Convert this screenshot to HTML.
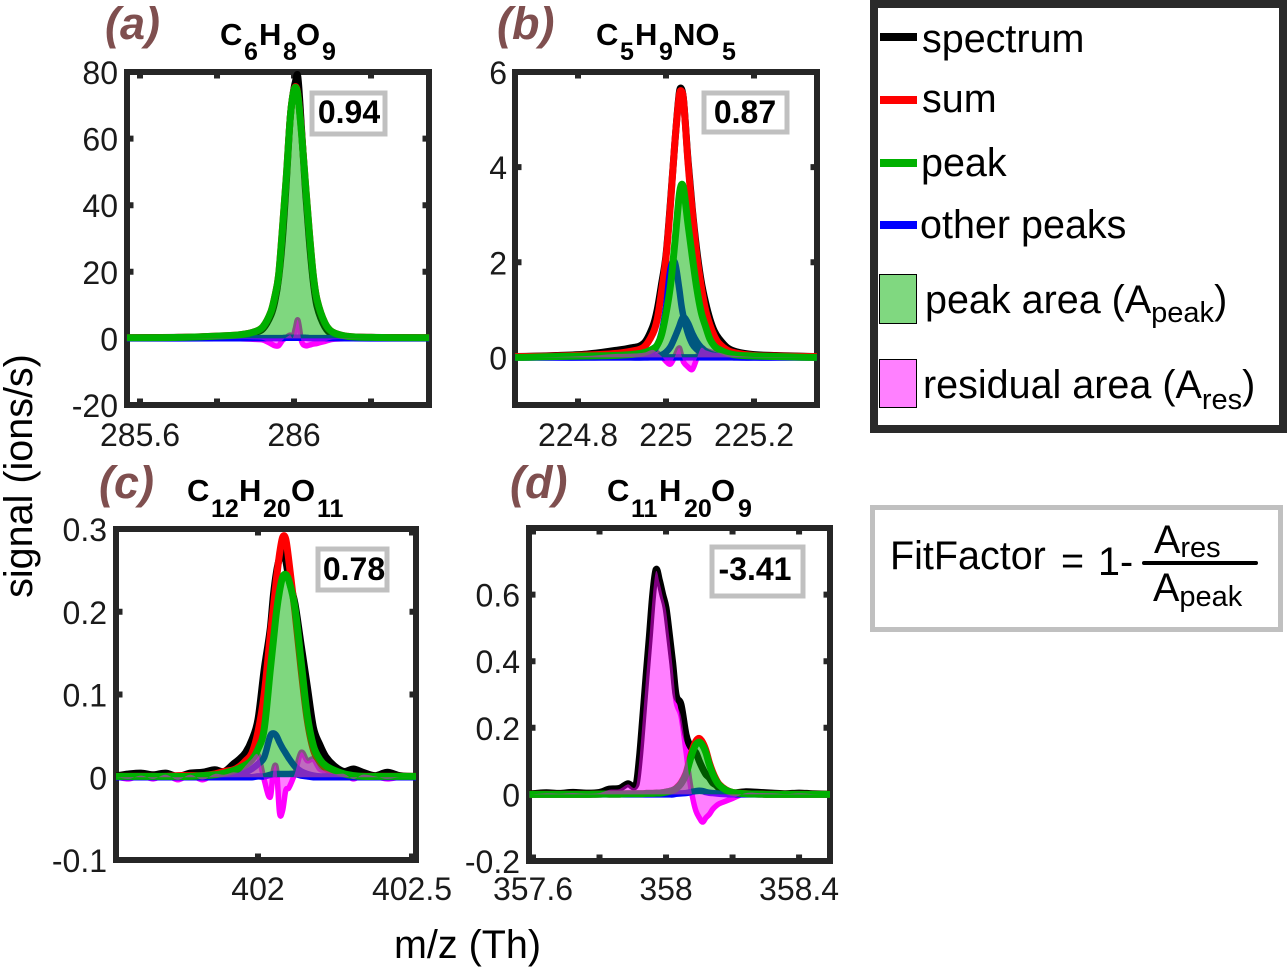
<!DOCTYPE html>
<html lang="en">
<head>
<meta charset="utf-8">
<title>Peak fit factor examples</title>
<style>
html,body{margin:0;padding:0;background:#fff;}
svg{display:block;font-family:"Liberation Sans",sans-serif;}
.panel-letter{font-weight:bold;font-style:italic;font-size:45px;fill:#7f4f4f;}
.title{font-weight:bold;font-size:31px;fill:#000;}
.title .s{font-size:25px;}
.fit{font-weight:bold;font-size:32px;fill:#000;text-anchor:middle;}
.leg{font-size:39.5px;fill:#000;}
.sub{font-size:29px;}
.axis-title{font-size:39.5px;fill:#000;}
</style>
</head>
<body>
<svg id="figure" xmlns="http://www.w3.org/2000/svg" width="1287" height="967" viewBox="0 0 1287 967">
  <rect x="0" y="0" width="1287" height="967" fill="#fff"/>
  <g id="panels"></g>

  <text class="panel-letter" x="105" y="39">(a)</text>
  <text class="panel-letter" x="497" y="39">(b)</text>
  <text class="panel-letter" x="99" y="498">(c)</text>
  <text class="panel-letter" x="510" y="498">(d)</text>

  <text class="title"><tspan x="220" y="45">C</tspan><tspan class="s" x="244" y="60">6</tspan><tspan x="259" y="45">H</tspan><tspan class="s" x="283" y="60">8</tspan><tspan x="296" y="45">O</tspan><tspan class="s" x="322" y="60">9</tspan></text>
  <text class="title"><tspan x="596" y="45">C</tspan><tspan class="s" x="620" y="60">5</tspan><tspan x="635" y="45">H</tspan><tspan class="s" x="659" y="60">9</tspan><tspan x="673" y="45">NO</tspan><tspan class="s" x="722" y="60">5</tspan></text>
  <text class="title"><tspan x="187" y="501">C</tspan><tspan class="s" x="211" y="517">12</tspan><tspan x="239" y="501">H</tspan><tspan class="s" x="263" y="517">20</tspan><tspan x="291" y="501">O</tspan><tspan class="s" x="317" y="517">11</tspan></text>
  <text class="title"><tspan x="607" y="501">C</tspan><tspan class="s" x="631" y="517">11</tspan><tspan x="659" y="501">H</tspan><tspan class="s" x="684" y="517">20</tspan><tspan x="711" y="501">O</tspan><tspan class="s" x="738" y="517">9</tspan></text>

  <g><rect x="312" y="93" width="73" height="41" fill="#fff" stroke="#c0c0c0" stroke-width="5"/><text class="fit" x="349" y="123">0.94</text></g>
  <g><rect x="704" y="93" width="83" height="39" fill="#fff" stroke="#c0c0c0" stroke-width="5"/><text class="fit" x="745" y="123">0.87</text></g>
  <g><rect x="318" y="549" width="69" height="41" fill="#fff" stroke="#c0c0c0" stroke-width="5"/><text class="fit" x="354" y="580">0.78</text></g>
  <g><rect x="712" y="547" width="91" height="49" fill="#fff" stroke="#c0c0c0" stroke-width="5"/><text class="fit" x="755" y="580">-3.41</text></g>

  <text class="axis-title" text-anchor="middle" transform="translate(32 476) rotate(-90)">signal (ions/s)</text>
  <text class="axis-title" x="394" y="958">m/z (Th)</text>

  <g>
    <rect x="874" y="4" width="409" height="425" fill="#fff" stroke="#2a2a2a" stroke-width="8"/>
    <rect x="880" y="33" width="37" height="8" fill="#000"/>
    <text class="leg" x="922" y="52">spectrum</text>
    <rect x="880" y="96" width="37" height="8" fill="#f00"/>
    <text class="leg" x="922" y="112">sum</text>
    <rect x="880" y="159" width="37" height="8" fill="#00b000"/>
    <text class="leg" x="921" y="176">peak</text>
    <rect x="880" y="221" width="37" height="8" fill="#00f"/>
    <text class="leg" x="920" y="238">other peaks</text>
    <rect x="879.5" y="274.5" width="37" height="49" fill="#80d880" stroke="#000" stroke-width="1"/>
    <text class="leg" x="925" y="313">peak area (A<tspan class="sub" dy="9">peak</tspan><tspan dy="-9">)</tspan></text>
    <rect x="879.5" y="359.5" width="37" height="48" fill="#ff80ff" stroke="#000" stroke-width="1"/>
    <text class="leg" x="923" y="398">residual area (A<tspan class="sub" dy="11">res</tspan><tspan dy="-11">)</tspan></text>
  </g>

  <g>
    <rect x="872.5" y="507.5" width="408" height="122" fill="#fff" stroke="#c0c0c0" stroke-width="5"/>
    <text class="leg" x="890" y="569">FitFactor</text>
    <text class="leg" x="1061" y="574">=</text>
    <text class="leg" x="1098" y="575">1-</text>
    <text class="leg" x="1154" y="553">A<tspan class="sub" dy="4">res</tspan></text>
    <line x1="1144" y1="563" x2="1256" y2="563" stroke="#000" stroke-width="4" stroke-linecap="round"/>
    <text class="leg" x="1153" y="601">A<tspan class="sub" dy="5">peak</tspan></text>
  </g>
</svg>
<script>
// Panel (a) C6H8O9
const aMz = [285.566,285.7,285.8,285.86,285.9,285.92,285.94,285.95,285.96,285.97,285.98,285.99,285.997,286.0035,286.01,286.02,286.03,286.04,286.05,286.06,286.08,286.1,286.14,286.2,286.351];
const aSpectrum = [.2,.3,.6,1,1.8,3,7,11,18,30,47,66,73,77,78.5,62,44,29,17,9.5,3.5,1.2,.5,.3,.2];
const aSum = [.2,.3,.7,1.1,2.1,3.6,8,12.5,19,33,48.5,66,73,75.6,73.2,61.2,46,31.5,19,11.5,4.7,1.9,.6,.3,.2];
const aPeak = [.2,.3,.7,1.1,2.1,3.6,8,12.5,19,33,48.5,66,73,75.4,73,61,46,31.5,19,11.5,4.7,1.9,.6,.3,.2];
const aOther = [0,0,.05,.05,.1,.1,.1,.1,.1,.1,.2,.2,.2,.2,.2,.2,.2,.1,.1,.1,.1,.1,.05,0,0];
const aResidual = [0,0,-.1,-.1,-.3,-.5,-1.6,-2.2,-2.2,-.6,.3,1,.2,3,5.5,-1,-2.2,-2,-1.7,-1.5,-.9,-.3,-.1,0,0];
const aXTicks = [285.6,285.8,286,286.2];
const aXLabels = ["285.6","","286",""];
const aYTicks = [-20,0,20,40,60,80];
const aYLabels = ["-20","0","20","40","60","80"];

// Panel (b) C5H9NO5
const bMz = [224.657,224.75,224.82,224.88,224.92,224.95,224.97,224.98,224.99,225,225.01,225.02,225.03,225.035,225.04,225.05,225.06,225.07,225.08,225.09,225.1,225.11,225.12,225.14,225.16,225.2,225.25,225.343];
const bSpectrum = [.02,.04,.07,.14,.2,.3,.65,1.0,1.55,2.15,3.25,4.5,5.55,5.65,5.4,4.15,3.1,2.25,1.6,1.15,.8,.55,.4,.2,.12,.06,.04,.02];
const bSum = [.02,.03,.05,.08,.13,.22,.5,.8,1.4,2.1,3.2,4.5,5.5,5.6,5.4,4.1,3.05,2.15,1.5,1,.68,.45,.3,.15,.09,.04,.03,.02];
const bPeak = [0,.02,.03,.04,.06,.1,.18,.26,.48,.92,1.5,2.4,3.4,3.63,3.55,2.8,2.1,1.45,.95,.65,.38,.24,.17,.09,.05,.03,.02,0];
const bOther1 = [0,0,0,.01,.03,.06,.13,.25,.52,1.05,1.85,2,1.45,1.1,.85,.5,.28,.17,.1,.06,.04,.03,.02,.01,0,0,0,0];
const bOther2 = [0,0,0,0,0,0,.01,.02,.05,.11,.22,.42,.65,.78,.85,.72,.5,.33,.21,.13,.08,.05,.03,.02,.01,0,0,0];
const bOther3 = [0,0,0,0,0,0,0,0,0,0,0,0,0,0,0,0,0,0,0,0,0,0,0,0,0,0,0,0];
const bResidual = [0,.01,.03,.07,.08,.1,.16,.1,.02,-.08,-.14,.02,.2,.05,-.1,-.2,-.25,-.02,.2,.15,.12,.1,.1,.05,.03,.01,.01,0];
const bXTicks = [224.8,225,225.2];
const bXLabels = ["224.8","225","225.2"];
const bYTicks = [0,2,4,6];
const bYLabels = ["0","2","4","6"];

// Panel (c) C12H20O11
const cMz = [401.539,401.58,401.62,401.66,401.7,401.74,401.78,401.82,401.86,401.89,401.92,401.94,401.96,401.98,402,402.02,402.04,402.05,402.06,402.07,402.08,402.09,402.1,402.12,402.14,402.16,402.18,402.2,402.22,402.25,402.28,402.31,402.34,402.38,402.42,402.46,402.513];
const cSpectrum = [.002,.004,.005,.003,.005,.001,.005,.006,.009,.007,.016,.022,.03,.045,.07,.13,.18,.22,.248,.265,.272,.262,.24,.21,.16,.11,.06,.04,.025,.013,.007,.01,.006,.002,.006,.002,.001];
const cSum = [.001,.001,.001,.001,.001,.002,.002,.002,.004,.007,.009,.013,.02,.029,.055,.1,.172,.205,.24,.27,.29,.288,.262,.2,.13,.069,.033,.019,.011,.005,.002,.001,.001,.001,.001,.001,.001];
const cPeak = [.001,.001,.001,.001,.001,.001,.001,.002,.003,.005,.008,.011,.015,.021,.034,.058,.13,.165,.2,.225,.242,.245,.238,.205,.14,.075,.038,.022,.014,.008,.004,.002,.001,.001,.001,.001,.001];
const cOther1 = [0,0,0,0,0,0,0,0,.001,.002,.003,.004,.006,.01,.016,.024,.05,.053,.05,.042,.035,.029,.023,.013,.007,.004,.002,.001,.001,0,0,0,0,0,0,0,0];
const cOther2 = [0,0,0,0,0,0,0,0,0,0,0,0,0,0,.001,.001,.003,.004,.004,.004,.004,.004,.004,.004,.002,.001,0,0,0,0,0,0,0,0,0,0,0];
const cResidual = [0,-.002,.002,-.002,.003,-.003,.003,-.003,.004,.003,.006,.006,.014,.022,.027,-.003,-.024,.008,.01,-.043,-.04,-.016,-.013,.005,.03,.02,.022,.01,.008,.004,.004,-.002,.003,.001,-.002,0,0];
const cXTicks = [402,402.5];
const cXLabels = ["402","402.5"];
const cYTicks = [-.1,0,.1,.2,.3];
const cYLabels = ["-0.1","0","0.1","0.2","0.3"];

// Panel (d) C11H20O9
const dMz = [357.589,357.64,357.68,357.72,357.76,357.8,357.83,357.86,357.885,357.91,357.92,357.93,357.94,357.95,357.96,357.97,357.98,357.99,358,358.01,358.02,358.03,358.045,358.06,358.07,358.08,358.09,358.1,358.11,358.12,358.13,358.14,358.15,358.16,358.18,358.2,358.24,358.28,358.32,358.36,358.4,358.44,358.493];
const dSpectrum = [.002,.005,.003,.006,.004,.006,.016,.018,.032,.03,.11,.23,.355,.475,.6,.675,.643,.6,.56,.48,.395,.3,.27,.18,.15,.135,.125,.1,.078,.06,.05,.035,.028,.018,.008,.004,.008,.006,.004,.002,.004,.002,.001];
const dSum = [0,0,0,0,0,.001,.001,.001,.002,.002,.002,.002,.003,.003,.003,.004,.004,.005,.007,.009,.012,.018,.034,.063,.1,.135,.16,.168,.156,.132,.096,.068,.046,.03,.014,.006,.002,.001,0,0,0,0,0];
const dPeak = [0,0,0,0,0,.001,.001,.001,.002,.002,.002,.002,.003,.003,.003,.004,.004,.005,.007,.009,.012,.017,.032,.06,.095,.128,.15,.157,.147,.125,.09,.063,.042,.028,.013,.006,.002,.001,0,0,0,0,0];
const dOther = [0,0,0,0,0,0,0,0,0,0,0,0,0,0,0,0,0,0,0,0,0,.002,.003,.004,.006,.008,.01,.011,.01,.007,.005,.004,.003,.002,.001,0,0,0,0,0,0,0,0];
const dResidual = [0,.003,.002,.004,.002,.004,.014,.016,.03,.026,.105,.225,.35,.47,.595,.67,.638,.595,.552,.47,.38,.28,.235,.13,.05,-.01,-.05,-.07,-.083,-.07,-.06,-.045,-.035,-.028,-.02,-.012,.004,.004,.003,.001,.003,.001,0];
const dXTicks = [357.6,357.8,358,358.2,358.4];
const dXLabels = ["357.6","","358","","358.4"];
const dYTicks = [-.2,0,.2,.4,.6];
const dYLabels = ["-0.2","0","0.2","0.4","0.6"];

const panels = [
  {id:'a',box:[127,429,405,72],xDom:[285.5662,286.3506],yDom:[-20,80],mz:aMz,spectrum:aSpectrum,sum:aSum,peak:aPeak,others:[aOther],residual:aResidual,xTicks:aXTicks,xLabels:aXLabels,yTicks:aYTicks,yLabels:aYLabels,xLabelY:446,yLabelX:118},
  {id:'b',box:[515,817,405,72],xDom:[224.6568,225.3432],yDom:[-1,6],mz:bMz,spectrum:bSpectrum,sum:bSum,peak:bPeak,others:[bOther3,bOther1,bOther2],residual:bResidual,xTicks:bXTicks,xLabels:bXLabels,yTicks:bYTicks,yLabels:bYLabels,xLabelY:446,yLabelX:507},
  {id:'c',box:[116,416,860,529],xDom:[401.539,402.513],yDom:[-.1,.3],mz:cMz,spectrum:cSpectrum,sum:cSum,peak:cPeak,others:[cOther2,cOther1],residual:cResidual,xTicks:cXTicks,xLabels:cXLabels,yTicks:cYTicks,yLabels:cYLabels,xLabelY:900,yLabelX:107},
  {id:'d',box:[529,830,861,528],xDom:[357.588,358.493],yDom:[-.2,.8],mz:dMz,spectrum:dSpectrum,sum:dSum,peak:dPeak,others:[dOther],residual:dResidual,xTicks:dXTicks,xLabels:dXLabels,yTicks:dYTicks,yLabels:dYLabels,xLabelY:900,yLabelX:520}
];

const NS = 'http://www.w3.org/2000/svg';
const FRAME = '#262626';
const TEXT = '#1a1a1a';
const root = document.getElementById('panels');

function make(parent, tag, attrs) {
  const el = document.createElementNS(NS, tag);
  for (const k in attrs) el.setAttribute(k, attrs[k]);
  parent.appendChild(el);
  return el;
}

// Smooth curve through the points (cubic Hermite with finite-difference slopes).
function linePath(p, X, Y, values) {
  const xs = values.map(function (v, i) { return X(p.mz[i]); });
  const ys = values.map(function (v) { return Y(v); });
  const n = xs.length;
  const slope = function (i) {
    if (i === 0 || i === n - 1) return 0;
    return (ys[i + 1] - ys[i - 1]) / (xs[i + 1] - xs[i - 1]);
  };
  let d = 'M' + xs[0].toFixed(2) + ' ' + ys[0].toFixed(2);
  for (let i = 0; i < n - 1; i++) {
    const h = (xs[i + 1] - xs[i]) / 3;
    d += 'C' + (xs[i] + h).toFixed(2) + ' ' + (ys[i] + slope(i) * h).toFixed(2) + ' ' +
         (xs[i + 1] - h).toFixed(2) + ' ' + (ys[i + 1] - slope(i + 1) * h).toFixed(2) + ' ' +
         xs[i + 1].toFixed(2) + ' ' + ys[i + 1].toFixed(2);
  }
  return d;
}

function areaPath(p, X, Y, values) {
  const n = values.length - 1;
  return linePath(p, X, Y, values) + 'L' + X(p.mz[n]).toFixed(2) + ' ' + Y(0).toFixed(2) + 'L' + X(p.mz[0]).toFixed(2) + ' ' + Y(0).toFixed(2) + 'Z';
}

function seriesLine(g, p, X, Y, values, color, width) {
  return make(g, 'path', {d: linePath(p, X, Y, values), fill: 'none', stroke: color, 'stroke-width': width, 'stroke-linejoin': 'round', 'stroke-linecap': 'butt'});
}

panels.forEach(function (p) {
  const l = p.box[0], r = p.box[1], b = p.box[2], t = p.box[3];
  const X = function (v) { return l + (v - p.xDom[0]) / (p.xDom[1] - p.xDom[0]) * (r - l); };
  const Y = function (v) { return b + (v - p.yDom[0]) / (p.yDom[1] - p.yDom[0]) * (t - b); };

  const g = make(root, 'g', {});
  
  

  const frame = make(g, 'rect', {x: l, y: t, width: r - l, height: b - t, fill: '#fff', stroke: FRAME, 'stroke-width': 6});
  
  

  p.xTicks.forEach(function (v, i) {
    const x = X(v);
    const tb = make(g, 'path', {d: 'M' + x + ' ' + b + 'V' + (b - 6.5) + 'M' + x + ' ' + t + 'V' + (t + 6.5), stroke: FRAME, 'stroke-width': 6, fill: 'none'});
    
    
    if (p.xLabels[i]) {
      const tx = make(g, 'text', {x: x, y: p.xLabelY, 'text-anchor': 'middle', 'font-size': 32, fill: TEXT});
      
      
      tx.textContent = p.xLabels[i];
    }
  });

  p.yTicks.forEach(function (v, i) {
    const y = Y(v);
    const tk = make(g, 'path', {d: 'M' + l + ' ' + y + 'H' + (l + 6.5) + 'M' + r + ' ' + y + 'H' + (r - 6.5), stroke: FRAME, 'stroke-width': 6, fill: 'none'});
    
    
    const ty = make(g, 'text', {x: p.yLabelX, y: y + 12, 'text-anchor': 'end', 'font-size': 32, fill: TEXT});
    
    
    ty.textContent = p.yLabels[i];
  });

  const resLine = seriesLine(g, p, X, Y, p.residual, '#ff00ff', 5.5);
  
  

  const specLine = seriesLine(g, p, X, Y, p.spectrum, '#000', 7);
  
  

  const sumLine = seriesLine(g, p, X, Y, p.sum, '#f00', 7);
  
  

  p.others.forEach(function (vals) {
    const o = seriesLine(g, p, X, Y, vals, '#00f', 6.5);
    
    
  });

  const peakLine = seriesLine(g, p, X, Y, p.peak, '#00b000', 7);
  
  

  const peakArea = make(g, 'path', {d: areaPath(p, X, Y, p.peak), fill: '#00b000', 'fill-opacity': 0.5, stroke: 'none'});
  
  

  const resArea = make(g, 'path', {d: areaPath(p, X, Y, p.residual), fill: '#ff00ff', 'fill-opacity': 0.5, stroke: 'none'});
  
  
});
</script>
</body>
</html>
